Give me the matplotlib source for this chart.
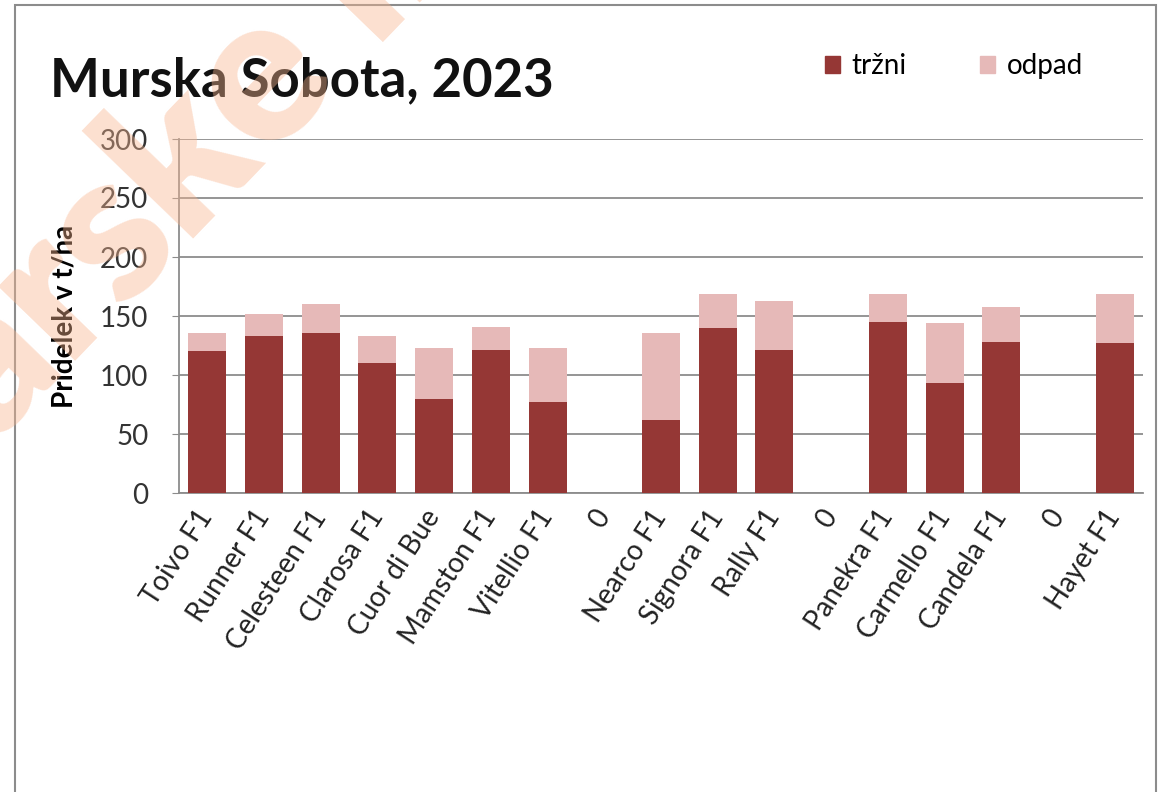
import matplotlib.pyplot as plt
import numpy as np
from matplotlib.patches import Rectangle, Patch

# podatki
sorte = ["Toivo F1", "Runner F1", "Celesteen F1", "Clarosa F1", "Cuor di Bue",
         "Mamston F1", "Vitellio F1", "0", "Nearco F1", "Signora F1", "Rally F1",
         "0", "Panekra F1", "Carmello F1", "Candela F1", "0", "Hayet F1"]
trzni = [120, 133, 136, 110, 80, 121, 77, 0, 62, 140, 121, 0, 145, 93, 128, 0, 127]
odpad = [16, 19, 24, 23, 43, 20, 46, 0, 74, 29, 42, 0, 24, 51, 30, 0, 42]

c_trzni = "#953735"
c_odpad = "#E6B9B8"

plt.rcParams['font.family'] = ['Lato', 'DejaVu Sans']

fig = plt.figure(figsize=(11.6, 7.92), dpi=100)
ax = fig.add_axes([179 / 1160, 1 - 493 / 792, (1143 - 179) / 1160, (493 - 139) / 792])

x = np.arange(len(sorte))
ax.bar(x, trzni, width=0.67, color=c_trzni, zorder=3)
ax.bar(x, odpad, width=0.67, bottom=trzni, color=c_odpad, zorder=3)

ax.set_xlim(-0.5, len(sorte) - 0.5)
ax.set_ylim(0, 300)
ax.set_yticks(range(0, 301, 50))
ax.yaxis.grid(True, color="#8c8c8c", lw=1.3, zorder=0)
ax.set_axisbelow(True)

for s in ["top", "right"]:
    ax.spines[s].set_visible(False)
for s in ["left", "bottom"]:
    ax.spines[s].set_color("#8c8c8c")
    ax.spines[s].set_linewidth(1.3)

ax.tick_params(axis="y", labelsize=20, colors="#8c8c8c", labelcolor="#333333", length=5, pad=17)
ax.tick_params(axis="x", length=0, pad=14)
ax.set_xticks(x)
ax.set_xticklabels(sorte, rotation=57, ha="right", va="center", rotation_mode="anchor",
                   fontsize=20, color="#222222")

ax.set_ylabel("Pridelek v t/ha", fontsize=20, fontweight="bold", labelpad=16)

fig.text(50 / 1160, 1 - 81 / 792, "Murska Sobota, 2023", fontsize=38,
         fontweight="bold", va="center", ha="left", color="#111111")

handles = [Patch(color=c_trzni, label="tržni"), Patch(color=c_odpad, label="odpad")]
fig.legend(handles=handles, loc="center left", bbox_to_anchor=(800 / 1160, 1 - 66 / 792),
           ncol=2, frameon=False, fontsize=20, handlelength=0.55, handleheight=0.55,
           handletextpad=0.4, columnspacing=2.65)

# okvir grafa
fig.patches.append(Rectangle((15 / 1160, -0.02), 1141 / 1160, 1.02 - 5 / 792,
                             transform=fig.transFigure, fill=False,
                             edgecolor="#8c8c8c", lw=1.5))

# vodni žig
fig.text(-5 / 1160, 1 - 445 / 792, "arske li", fontsize=148, fontweight="heavy",
         rotation=46, ha="left", va="baseline", rotation_mode="anchor",
         color="#F8B58F", alpha=0.42, zorder=10)

fig.savefig("out.png", dpi=100)
